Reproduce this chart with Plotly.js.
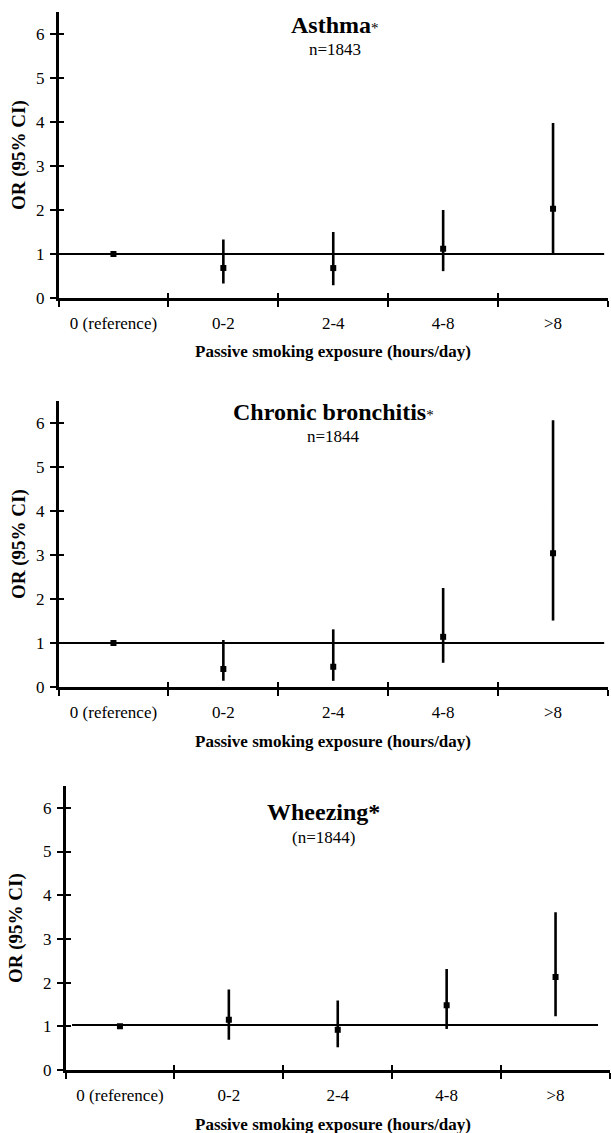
<!DOCTYPE html>
<html>
<head>
<meta charset="utf-8">
<script src="https://cdn.plot.ly/plotly-3.0.1.min.js"></script>
<style>html,body{margin:0;padding:0;background:#fff;}#chart{width:611px;height:1133px;}</style>
</head>
<body>
<div id="chart"></div>
<script>
// ---- data ----
const categories = ['0 (reference)', '0-2', '2-4', '4-8', '>8'];

const asthmaOR = [1.0, 0.68, 0.68, 1.12, 2.03];
const asthmaLo = [1.0, 0.33, 0.29, 0.61, 1.02];
const asthmaHi = [1.0, 1.33, 1.50, 2.00, 3.98];

const bronchOR = [1.0, 0.41, 0.46, 1.14, 3.04];
const bronchLo = [1.0, 0.14, 0.14, 0.55, 1.51];
const bronchHi = [1.0, 1.07, 1.31, 2.25, 6.06];

const wheezeOR = [1.0, 1.15, 0.92, 1.48, 2.13];
const wheezeLo = [1.0, 0.69, 0.52, 0.94, 1.23];
const wheezeHi = [1.0, 1.84, 1.59, 2.31, 3.61];

const yTicks = [0, 1, 2, 3, 4, 5, 6];
const panelTitles = ['<b>Asthma</b><span style="font-size:15px">*</span>',
                     '<b>Chronic bronchitis</b><span style="font-size:15px">*</span>',
                     '<b>Wheezing*</b>'];
const panelSubtitles = ['n=1843', 'n=1844', '(n=1844)'];
const refLine = [1, 1, 1.03];
const xTitle = 'Passive smoking exposure (hours/day)';
const yTitle = 'OR (95% CI)';

// ---- layout helpers ----
const W = 611, H = 1133;
const px = v => v / W;
const py = v => (H - v) / H;
const FONT = 'Liberation Serif, Times New Roman, serif';

// pixel geometry of each panel: left, right, top, bottom
const panels = [
  {l: 58.5, r: 608, t: 12, b: 298, titleX: 335, titleY: 25, subY: 49, yTitleX: 19},
  {l: 58.5, r: 608, t: 401, b: 687, titleX: 333, titleY: 412, subY: 437, yTitleX: 19},
  {l: 65.5, r: 610, t: 786, b: 1070, titleX: 323, titleY: 812, subY: 837, yTitleX: 16}
];
const series = [
  [asthmaOR, asthmaLo, asthmaHi],
  [bronchOR, bronchLo, bronchHi],
  [wheezeOR, wheezeLo, wheezeHi]
];

const traces = [];
const layout = {
  width: W, height: H,
  margin: {l: 0, r: 0, t: 0, b: 0},
  paper_bgcolor: '#fff', plot_bgcolor: 'rgba(0,0,0,0)',
  showlegend: false,
  font: {family: FONT, color: '#000', size: 16},
  annotations: [],
  shapes: []
};

series.forEach((s, i) => {
  const [or, lo, hi] = s;
  const n = i === 0 ? '' : String(i + 1);
  const m = String(i + 4); // overlay axes for inner half of crossing ticks
  const P = panels[i];
  traces.push({
    type: 'scatter', mode: 'markers',
    x: categories, y: or,
    xaxis: 'x' + n, yaxis: 'y' + n,
    marker: {symbol: 'square', size: 6, color: '#000'},
    error_y: {
      type: 'data', symmetric: false,
      array: hi.map((h, k) => h - or[k]),
      arrayminus: lo.map((l, k) => or[k] - l),
      color: '#000', thickness: 2.6, width: 0
    },
    hoverinfo: 'skip'
  });
  // invisible trace so the overlay axes are drawn
  traces.push({
    type: 'scatter', mode: 'markers',
    x: categories, y: categories.map(() => null),
    xaxis: 'x' + m, yaxis: 'y' + m,
    marker: {size: 0, opacity: 0}, hoverinfo: 'skip'
  });
  layout['xaxis' + n] = {
    type: 'category', domain: [px(P.l), px(P.r)], anchor: 'y' + n,
    range: [-0.5, 4.5], showgrid: false, zeroline: false,
    showline: true, linecolor: '#000', linewidth: 2.5,
    ticks: 'outside', tickson: 'boundaries', ticklen: 6, tickwidth: 2, tickcolor: '#000',
    ticklabelstandoff: 8,
    tickfont: {family: FONT, size: 17, color: '#000'}
  };
  layout['yaxis' + n] = {
    domain: [py(P.b), py(P.t)], anchor: 'x' + n,
    range: [0, 6.5], showgrid: false, zeroline: false,
    showline: true, linecolor: '#000', linewidth: 2.5,
    tickvals: yTicks, ticks: 'outside', ticklen: 6, tickwidth: 2, tickcolor: '#000',
    ticklabelstandoff: 2,
    tickfont: {family: FONT, size: 17, color: '#000'}
  };
  layout['xaxis' + m] = {
    type: 'category', overlaying: 'x' + n, anchor: 'y' + n,
    range: [-0.5, 4.5], showgrid: false, zeroline: false, showline: false,
    ticks: 'inside', tickson: 'boundaries', ticklen: 5, tickwidth: 2, tickcolor: '#000',
    showticklabels: false
  };
  layout['yaxis' + m] = {
    overlaying: 'y' + n, anchor: 'x' + n,
    range: [0, 6.5], showgrid: false, zeroline: false, showline: false,
    tickvals: yTicks, ticks: 'inside', ticklen: 5, tickwidth: 2, tickcolor: '#000',
    showticklabels: false
  };
  layout.shapes.push({
    type: 'line', xref: 'x' + n + ' domain', yref: 'y' + n,
    x0: i === 2 ? 0.012 : 0, x1: i === 2 ? 0.978 : 0.993,
    y0: refLine[i], y1: refLine[i],
    line: {color: '#000', width: 1.8}, layer: 'below'
  });
  layout.annotations.push(
    {text: panelTitles[i], xref: 'paper', yref: 'paper', x: px(P.titleX), y: py(P.titleY),
     showarrow: false, xanchor: 'center', yanchor: 'middle', font: {family: FONT, size: 24, color: '#000'}},
    {text: panelSubtitles[i], xref: 'paper', yref: 'paper', x: px(P.titleX), y: py(P.subY),
     showarrow: false, xanchor: 'center', yanchor: 'middle', font: {family: FONT, size: 17, color: '#000'}},
    {text: '<b>' + xTitle + '</b>', xref: 'paper', yref: 'paper', x: px(333), y: py(P.b + 54),
     showarrow: false, xanchor: 'center', yanchor: 'middle', font: {family: FONT, size: 17, color: '#000'}},
    {text: '<b>' + yTitle + '</b>', xref: 'paper', yref: 'paper', x: px(P.yTitleX), y: py((P.t + P.b) / 2),
     showarrow: false, xanchor: 'center', yanchor: 'middle', textangle: -90, font: {family: FONT, size: 19, color: '#000'}}
  );
});

Plotly.newPlot('chart', traces, layout, {staticPlot: true, displayModeBar: false});
</script>
</body>
</html>
